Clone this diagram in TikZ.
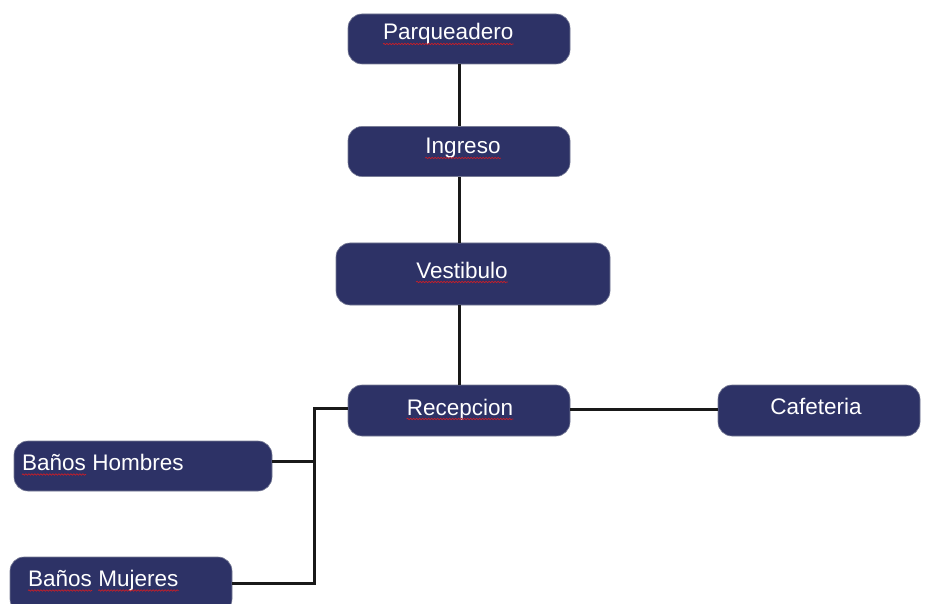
\documentclass[tikz,border=0pt]{standalone}
\usepackage{fontspec}
\setmainfont{Liberation Sans}
\usetikzlibrary{decorations.pathmorphing,calc}
\definecolor{boxfill}{RGB}{45,50,102}
\definecolor{boxedge}{RGB}{120,124,150}
\definecolor{squigred}{RGB}{200,30,40}
\tikzset{
  box/.style={draw=boxedge, line width=0.6pt, fill=boxfill, rounded corners=14pt, inner sep=0pt},
  txt/.style={text=white, font=\fontsize{22.5}{25}\selectfont, inner sep=0pt, anchor=base west},
  txtc/.style={text=white, font=\fontsize{22.5}{25}\selectfont, inner sep=0pt, anchor=base},
  link/.style={draw=black!90, line width=3pt},
  squig/.style={draw=squigred, line width=0.7pt, decorate, decoration={snake, amplitude=0.7pt, segment length=3pt}}
}
\begin{document}
\begin{tikzpicture}[x=1pt,y=-1pt]
\useasboundingbox[fill=white] (0,0) rectangle (932,604);
\begin{scope}
\clip (0,0) rectangle (932,604);
% boxes
\node[box, minimum width=222pt, minimum height=50pt] (par) at (459,39) {};
\node[box, minimum width=222pt, minimum height=50pt] (ing) at (459,151.5) {};
\node[box, minimum width=274pt, minimum height=62pt] (ves) at (473,274) {};
\node[box, minimum width=222pt, minimum height=51pt] (rec) at (459,410.5) {};
\node[box, minimum width=202pt, minimum height=51pt] (caf) at (819,410.5) {};
\node[box, minimum width=258pt, minimum height=50pt] (bh) at (143,466) {};
\node[box, minimum width=222pt, minimum height=56pt] (bm) at (121,585) {};
% connectors
\coordinate (jl) at (314,408);
\draw[link] (par.south -| 459,0) -- (ing.north -| 459,0);
\draw[link] (ing.south -| 459,0) -- (ves.north -| 459,0);
\draw[link] (ves.south -| 459,0) -- (rec.north -| 459,0);
\draw[link] (rec.east |- 0,409) -- (caf.west |- 0,409);
\draw[link] (rec.west |- jl) -- (jl) -- (jl |- 0,583) -- (bm.east |- 0,583);
\draw[link] (bh.east |- 0,461) -- (jl |- 0,461);
% texts
\node[txt] (tpar) at (383,40) {Parqueadero};
\node[txtc] (ting) at (463,154) {Ingreso};
\node[txtc] (tves) at (462,278) {Vestibulo};
\node[txtc] (trec) at (460,415) {Recepcion};
\node[txtc] (tcaf) at (816,414) {Cafeteria};
\node[txt] (tbh1) at (22,470.5) {Baños};
\node[txt] (tbh2) at ([xshift=6pt]tbh1.base east) {Hombres};
\node[txt] (tbm1) at (28,586.5) {Baños};
\node[txt] (tbm2) at ([xshift=6pt]tbm1.base east) {Mujeres};
% spell-check underlines
\foreach \n in {tpar,ting,tves,trec,tbh1,tbm1,tbm2}{
  \draw[squig] ([yshift=-4pt]\n.base west) -- ([yshift=-4pt]\n.base east);
}
\end{scope}
\end{tikzpicture}
\end{document}
